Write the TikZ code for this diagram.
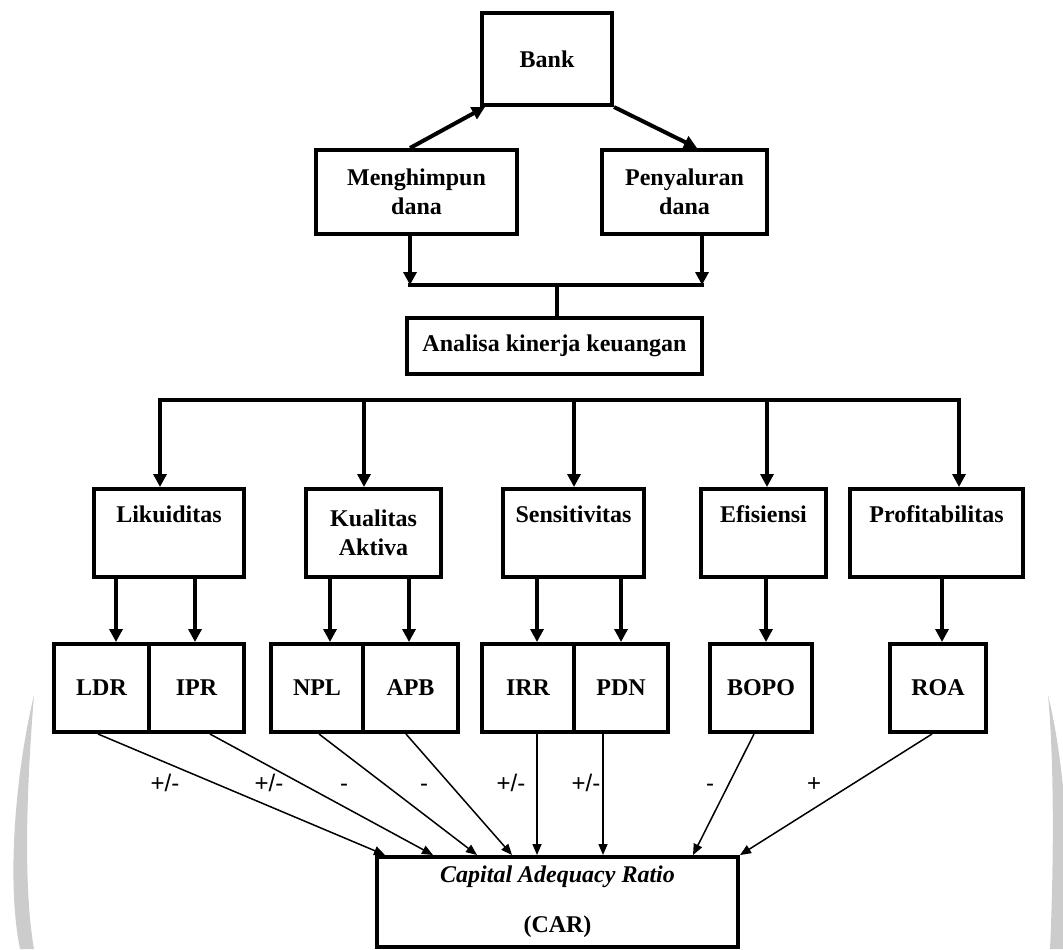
\documentclass[tikz,border=0pt]{standalone}
\usepackage{fontspec}
\setmainfont{Liberation Serif}
\newfontfamily\arialfont{Liberation Sans}
\usepackage{tikz}
\usetikzlibrary{arrows.meta,calc}
\newcommand{\pmsgn}{+/-}

\begin{document}
\begin{tikzpicture}[x=0.5pt, y=-0.5pt, every node/.style={font=\fontsize{12}{14.5}\selectfont\bfseries},
  box/.style={draw, line width=2pt, align=center, inner sep=0pt},
  thk/.style={line width=2pt, -{Triangle[width=6.5pt,length=6.5pt]}},
  thn/.style={line width=0.75pt, -{Triangle[width=4.5pt,length=5.5pt]}},
  sgn/.style={font=\fontsize{12}{14}\selectfont\arialfont, anchor=base, inner sep=0pt}]
\useasboundingbox (0,0) rectangle (1063,949);
\begin{scope}
  \clip (0,0) rectangle (1063,949);
  \fill[gray!40] (34,695) .. controls (16,770) and (6,880) .. (20,949) -- (34,949) .. controls (22,880) and (28,770) .. (34,695) -- cycle;
  \fill[gray!40] (1048,695) .. controls (1064,760) and (1072,860) .. (1066,949) -- (1050,949) .. controls (1054,860) and (1054,760) .. (1048,695) -- cycle;
\end{scope}

\node[box, minimum width=65pt, minimum height=46pt] (bank) at (547,59) {Bank};
\node[box, minimum width=100.5pt, minimum height=42pt] (mgh) at (416.5,192) {Menghimpun\\dana};
\node[box, minimum width=82.5pt, minimum height=42pt] (pny) at (684.5,192) {Penyaluran\\dana};
\node[box, minimum width=147.5pt, minimum height=28pt] (ak) at (554.5,346) {Analisa kinerja keuangan};

\draw[thk] ([xshift=-3.25pt]mgh.north) -- ([xshift=2.5pt]bank.south west);
\draw[thk] (bank.south east) -- ([xshift=6.25pt]pny.north);

\coordinate (jl) at (410,285);
\coordinate (jr) at (702,285);
\coordinate (jm) at (557,285);
\draw[thk] (mgh.south -| jl) -- (jl);
\draw[thk] (pny.south -| jr) -- (jr);
\draw[line width=2pt, line cap=rect] (jl) -- (jr);
\draw[line width=2pt] (jm) -- (jm |- ak.north);

\foreach \n/\x/\w/\t in {lik/169/75/Likuiditas\\\strut, kua/373.5/67.5/Kualitas\\Aktiva, sen/573.5/70.5/Sensitivitas\\\strut,
  efi/763.5/62.5/Efisiensi\\\strut, pro/936.5/86.5/Profitabilitas\\\strut}
  \node[box, minimum width=\w pt, minimum height=44pt] (\n) at (\x,533) {\t};

\foreach \n/\x in {lik/160, kua/364, sen/574, efi/767, pro/959}{
  \coordinate (t\n) at (\x,400);
  \draw[thk] (t\n) -- (t\n |- \n.north);}
\draw[line width=2pt, line cap=rect] (tlik) -- (tpro);

\foreach \n/\x/\w/\t in {ldr/101.5/47.5/LDR, ipr/196.5/47.5/IPR, npl/317/46/NPL, apb/410.5/47.5/APB,
  irr/528/46/IRR, pdn/621/47/PDN, bopo/761/51/BOPO, roa/938/48/ROA}
  \node[box, minimum width=\w pt, minimum height=44pt] (\n) at (\x,688) {\t};

\foreach \p/\c/\x in {lik/ldr/116, lik/ipr/195, kua/npl/330, kua/apb/409, sen/irr/537, sen/pdn/621, efi/bopo/766, pro/roa/942}{
  \coordinate (d\c) at (\x,0);
  \draw[thk] (\p.south -| d\c) -- (\c.north -| d\c);}

\node[box, minimum width=180.5pt, minimum height=45pt] (car) at (557.5,902) {\textit{Capital Adequacy Ratio}\\[10.5pt](CAR)};

\foreach \s/\sx/\ex/\lab/\lx [count=\i] in {ldr/98/385/\pmsgn/165, ipr/210/433/\pmsgn/269, npl/319/477/-/344, apb/406/512/-/424,
  irr/537/537/\pmsgn/511, pdn/603/603/\pmsgn/586, bopo/754/693/-/710, roa/932/740/+/814}{
  \coordinate (a\i) at (\sx,0);
  \coordinate (e\i) at (\ex,0);
  \draw[thn] (\s.south -| a\i) -- (car.north -| e\i);
  \node[sgn] (s\i) at (\lx,791) {\lab};}
\end{tikzpicture}
\end{document}
